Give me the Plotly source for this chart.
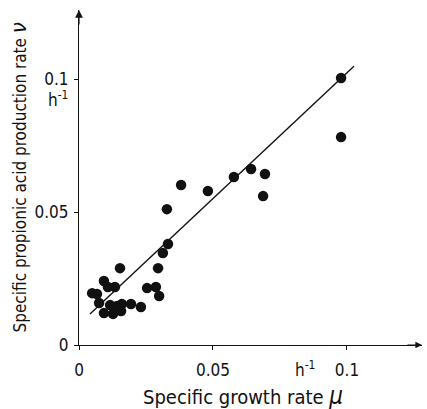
import plotly.graph_objects as go

# Data
mu = [0.0049, 0.0067, 0.0075, 0.0093, 0.0108, 0.0134, 0.0153, 0.0093, 0.0127,
      0.0116, 0.0142, 0.0160, 0.0157, 0.0194, 0.0231, 0.0254, 0.0287, 0.0299,
      0.0295, 0.0313, 0.0332, 0.0328, 0.0381, 0.0481, 0.0578, 0.0642, 0.0694,
      0.0687, 0.0978, 0.0978]
nu = [0.0195, 0.0192, 0.0158, 0.0241, 0.0218, 0.0218, 0.0289, 0.0120, 0.0117,
      0.0150, 0.0147, 0.0154, 0.0128, 0.0154, 0.0143, 0.0214, 0.0218, 0.0184,
      0.0289, 0.0346, 0.0380, 0.0511, 0.0602, 0.0579, 0.0632, 0.0662, 0.0643,
      0.0560, 0.1004, 0.0782]
fit_slope = 0.946
fit_intercept = 0.0078
fit_x = [0.0041, 0.1026]
fit_y = [fit_slope * v + fit_intercept for v in fit_x]

x_ticks = [0, 0.05, 0.1]
x_ticklabels = ["0", "0.05", "0.1"]
y_ticks = [0, 0.05, 0.1]
y_ticklabels = ["0", "0.05", "0.1"]

FONT = "DejaVu Sans Condensed, Liberation Sans Narrow, sans-serif"
INK = "#111111"

fig = go.Figure()
fig.add_trace(go.Scatter(x=fit_x, y=fit_y, mode="lines",
                         line=dict(color=INK, width=1.4), showlegend=False))
fig.add_trace(go.Scatter(x=mu, y=nu, mode="markers",
                         marker=dict(color=INK, size=10.5, line=dict(width=0)),
                         showlegend=False))

XMAX, YMAX = 0.128, 0.126
fig.update_layout(
    width=427, height=409,
    margin=dict(l=79, r=5, t=10, b=64),
    paper_bgcolor="white", plot_bgcolor="white",
    font=dict(family=FONT, size=17, color=INK),
    xaxis=dict(range=[0, XMAX], tickvals=x_ticks, ticktext=x_ticklabels,
               showgrid=False, zeroline=False, showline=True, linecolor=INK,
               linewidth=1.2, ticks="outside", ticklen=4, tickcolor=INK,
               ticklabelstandoff=5,
               tickfont=dict(family=FONT, size=17, color=INK)),
    yaxis=dict(range=[0, YMAX], tickvals=y_ticks, ticktext=y_ticklabels,
               showgrid=False, zeroline=False, showline=True, linecolor=INK,
               linewidth=1.2, ticks="outside", ticklen=4, tickcolor=INK,
               ticklabelstandoff=2,
               tickfont=dict(family=FONT, size=17, color=INK)),
)

annotations = [
    # axis arrows
    dict(x=XMAX, y=0, xref="x", yref="y", ax=XMAX - 0.006, ay=0, axref="x", ayref="y",
         showarrow=True, arrowhead=2, arrowsize=1.1, arrowwidth=1.2, arrowcolor=INK, text=""),
    dict(x=0, y=YMAX, xref="x", yref="y", ax=0, ay=YMAX - 0.006, axref="x", ayref="y",
         showarrow=True, arrowhead=2, arrowsize=1.3, arrowwidth=1.2, arrowcolor=INK, text=""),
    # unit labels
    dict(x=0.0845, y=0, xref="x", yref="y", yanchor="top", yshift=-11,
         text="h<sup>-1</sup>", showarrow=False,
         font=dict(family=FONT, size=17, color=INK)),
    dict(x=0, y=0.1, xref="x", yref="y", xanchor="right", xshift=-9, yshift=-20,
         text="h<sup>-1</sup>", showarrow=False,
         font=dict(family=FONT, size=17, color=INK)),
    # axis titles
    dict(x=0.5, y=0, xref="paper", yref="paper", xanchor="center", yanchor="top",
         yshift=-35, xshift=-8,
         text="Specific growth rate <i><span style='font-size:24px'>μ</span></i>",
         showarrow=False, font=dict(family=FONT, size=20, color=INK)),
    dict(x=0, y=0.5, xref="paper", yref="paper", xanchor="center", yanchor="middle",
         xshift=-61, textangle=-90,
         text="Specific propionic acid production rate <i><span style='font-size:22px'>ν</span></i>",
         showarrow=False, font=dict(family=FONT, size=17, color=INK)),
]
fig.update_layout(annotations=annotations)

fig.write_html("out.html")
